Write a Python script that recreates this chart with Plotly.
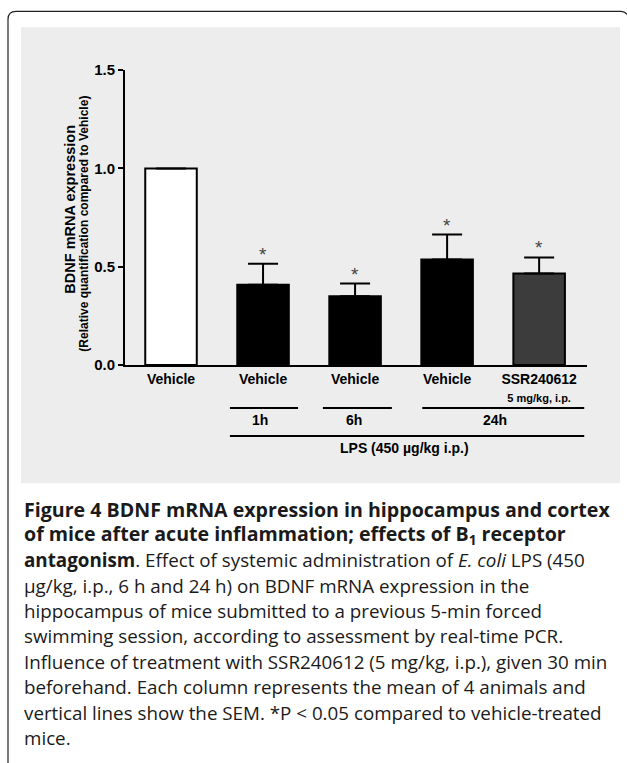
import plotly.graph_objects as go

# ---------------- data ----------------
tick_labels = ["Vehicle", "Vehicle", "Vehicle", "Vehicle",
               "SSR240612<br><span style='font-size:11px'>5 mg/kg, i.p.</span>"]
means = [1.0, 0.408, 0.350, 0.537, 0.465]
sems = [0.0, 0.107, 0.064, 0.126, 0.082]
significant = [False, True, True, True, True]
bar_colors = ["#ffffff", "#000000", "#000000", "#000000", "#3c3c3c"]
y_ticks = [0.0, 0.5, 1.0, 1.5]
time_labels = ["1h", "6h", "24h"]
treatment_label = "LPS (450 \u00b5g/kg i.p.)"

caption_lines = [
    "<b>Figure 4</b> <b>BDNF mRNA expression in hippocampus and cortex</b>",
    "<b>of mice after acute inflammation; effects of B<sub>1</sub> receptor</b>",
    "<b>antagonism</b>. Effect of systemic administration of <i>E. coli</i> LPS (450",
    "\u00b5g/kg, i.p., 6 h and 24 h) on BDNF mRNA expression in the",
    "hippocampus of mice submitted to a previous 5-min forced",
    "swimming session, according to assessment by real-time PCR.",
    "Influence of treatment with SSR240612 (5 mg/kg, i.p.), given 30 min",
    "beforehand. Each column represents the mean of 4 animals and",
    "vertical lines show the SEM. *P &lt; 0.05 compared to vehicle-treated",
    "mice.",
]
caption_bold = [True, True, False, False, False, False, False, False, False, False]

W, H = 627, 763
def px(x):
    return x / W
def py(y):
    # pixel row (from top) -> paper fraction, compensating the page offset seen in capture
    return 1 - ((y - 9.7) / 0.976) / H

x_pos = list(range(len(means)))

fig = go.Figure()
fig.add_trace(go.Bar(
    x=x_pos, y=means, width=0.56,
    marker=dict(color=bar_colors, line=dict(color="black", width=2)),
    error_y=dict(type="data", array=sems, symmetric=False,
                 arrayminus=[0] * len(sems), color="black",
                 thickness=2, width=15),
    showlegend=False, hoverinfo="y",
))

AX_FONT = dict(family="Arial, Liberation Sans", size=14, color="black")

fig.update_layout(
    width=W, height=H,
    margin=dict(l=0, r=0, t=0, b=0),
    paper_bgcolor="white",
    plot_bgcolor="rgba(0,0,0,0)",
    xaxis=dict(domain=[px(125), px(587)], range=[-0.5, 4.52],
               tickvals=x_pos, ticktext=tick_labels,
               showline=True, linewidth=2, linecolor="black",
               ticks="", showgrid=False, zeroline=False,
               tickfont=dict(AX_FONT, size=14, weight="bold")),
    yaxis=dict(domain=[py(365), py(70.7)], range=[0, 1.5],
               tickvals=y_ticks, ticktext=[f"{v:.1f}" for v in y_ticks],
               showline=True, linewidth=2, linecolor="black",
               ticks="outside", ticklen=5, tickwidth=2, tickcolor="black",
               showgrid=False, zeroline=False,
               tickfont=dict(AX_FONT, size=15, weight="bold")),
    font=AX_FONT,
)

shapes = []
# grey figure panel
shapes.append(dict(type="rect", xref="paper", yref="paper",
                   x0=px(21), x1=px(620), y0=py(483), y1=py(28),
                   fillcolor="#ededed", line=dict(width=0), layer="below"))
# frame (top + left, rounded corner)
path = (f"M {px(8)},{py(775)} L {px(8)},{py(20)} Q {px(8)},{py(12)} {px(16)},{py(12)} "
        f"L {px(621)},{py(12)} Q {px(625)},{py(12)} {px(627)},{py(15)}")
shapes.append(dict(type="path", xref="paper", yref="paper", path=path,
                   line=dict(color="#222222", width=1.2)))

# time brackets (in category units) and treatment bracket
bracket_spans = [(0.64, 1.38), (1.65, 2.40), (2.73, 4.49)]
for (a, b) in bracket_spans:
    shapes.append(dict(type="line", xref="x", yref="paper",
                       x0=a, x1=b, y0=py(408), y1=py(408),
                       line=dict(color="black", width=2)))
shapes.append(dict(type="line", xref="x", yref="paper",
                   x0=bracket_spans[0][0], x1=bracket_spans[-1][1],
                   y0=py(436), y1=py(436), line=dict(color="black", width=2)))
fig.update_layout(shapes=shapes)

annotations = []
# y-axis titles
annotations.append(dict(text="<b>BDNF mRNA expression</b>", xref="paper", yref="paper",
                        x=px(70), y=py(210), textangle=-90, showarrow=False,
                        xanchor="center", yanchor="middle",
                        font=dict(AX_FONT, size=14.5)))
annotations.append(dict(text="<b>(Relative quantification compared to Vehicle)</b>",
                        xref="paper", yref="paper",
                        x=px(84), y=py(224), textangle=-90, showarrow=False,
                        xanchor="center", yanchor="middle",
                        font=dict(AX_FONT, size=12)))
# significance stars
for i, (m, s, sig) in enumerate(zip(means, sems, significant)):
    if sig:
        annotations.append(dict(text="*", x=x_pos[i], y=m + s, xref="x", yref="y",
                                showarrow=False, yanchor="bottom", yshift=-3,
                                font=dict(family="Arial", size=19, color="#444444")))
# time labels
time_label_x = [0.97, 1.99, 3.52]
for lbl, xl in zip(time_labels, time_label_x):
    annotations.append(dict(text=f"<b>{lbl}</b>", x=xl, y=py(420), xref="x", yref="paper",
                            showarrow=False, xanchor="center", yanchor="middle",
                            font=dict(AX_FONT, size=14)))
annotations.append(dict(text=f"<b>{treatment_label}</b>", x=2.54, y=py(448),
                        xref="x", yref="paper", showarrow=False,
                        xanchor="center", yanchor="middle",
                        font=dict(AX_FONT, size=14)))
# caption
for i, (line, bold) in enumerate(zip(caption_lines, caption_bold)):
    baseline = 515 + 25.4 * i
    annotations.append(dict(text=line, xref="paper", yref="paper",
                            x=px(22), y=py(baseline - 6), xanchor="left", yanchor="middle",
                            showarrow=False, align="left",
                            font=dict(family="Open Sans", size=19.6 if bold else 18.8,
                                      color="#1a1a1a")))
fig.update_layout(annotations=annotations)

post = ("document.documentElement.style.overflow='hidden';"
        "document.body.style.margin='0px';document.body.style.overflow='hidden';"
        "var d=document.getElementById('{plot_id}');"
        "d.style.position='fixed';d.style.top='0px';d.style.left='0px';")
fig.write_html("out.html", config={"displayModeBar": False}, post_script=post)
